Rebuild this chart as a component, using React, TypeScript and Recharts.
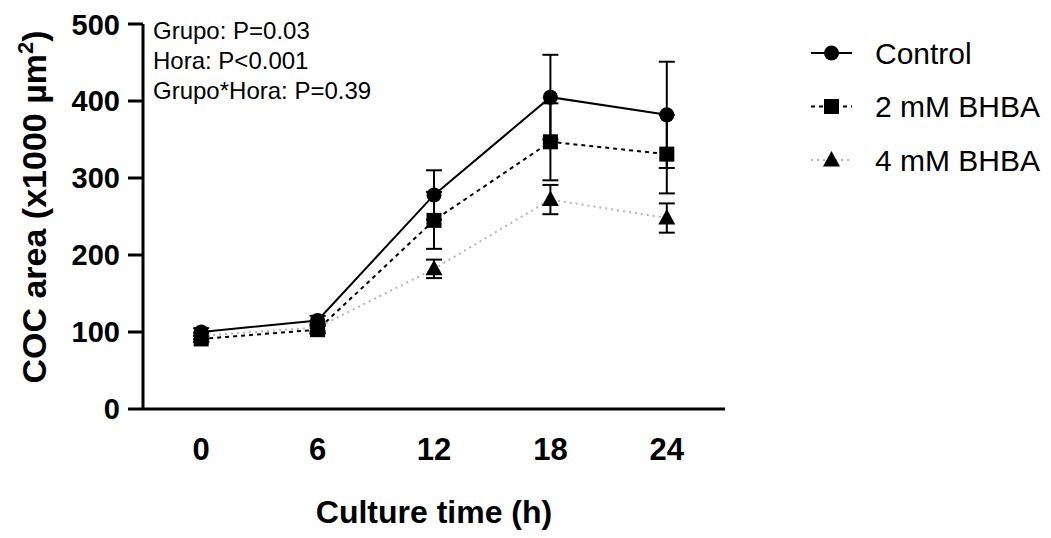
import React from "react";
import { LineChart, Line, XAxis, YAxis, ErrorBar, Customized } from "recharts";

const HOURS = [0, 6, 12, 18, 24];
const CONTROL = [100, 115, 278, 405, 382];
const CONTROL_SEM = [5, 6, 32, 55, 69];
const BHBA2 = [91, 103, 245, 347, 331];
const BHBA2_SEM = [4, 5, 37, 50, 51];
const BHBA4 = [95, 106, 182, 272, 248];
const BHBA4_SEM = [4, 5, 12, 19, 19];
const Y_TICKS = [0, 100, 200, 300, 400, 500];
const STATS = ["Grupo: P=0.03", "Hora: P<0.001", "Grupo*Hora: P=0.39"];

const FONT = "'Liberation Sans', Arial, sans-serif";

const data = HOURS.map((h, i) => ({
  hour: h,
  control: CONTROL[i],
  controlErr: CONTROL_SEM[i],
  bhba2: BHBA2[i],
  bhba2Err: BHBA2_SEM[i],
  bhba4: BHBA4[i],
  bhba4Err: BHBA4_SEM[i],
}));

type Shape = "circle" | "square" | "triangle";

const marker = (shape: Shape, cx: number, cy: number, key?: any) => {
  if (shape === "circle") return <circle key={key} cx={cx} cy={cy} r={7.5} fill="#000" />;
  if (shape === "square") return <rect key={key} x={cx - 7.5} y={cy - 7.5} width={15} height={15} fill="#000" />;
  return <polygon key={key} points={`${cx},${cy - 9} ${cx - 8.5},${cy + 6.5} ${cx + 8.5},${cy + 6.5}`} fill="#000" />;
};

const dotFor = (shape: Shape) => (props: any) => marker(shape, props.cx, props.cy, `${shape}-${props.index}`);

const SERIES = [
  { key: "control", name: "Control", shape: "circle" as Shape, stroke: "#000", dash: undefined },
  { key: "bhba2", name: "2 mM BHBA", shape: "square" as Shape, stroke: "#000", dash: "4 4" },
  { key: "bhba4", name: "4 mM BHBA", shape: "triangle" as Shape, stroke: "#b5b5b5", dash: "2 4" },
];

// legend, stats text and axis titles drawn on top of the chart
const Extras = () => (
  <g fontFamily={FONT} fill="#000">
    {SERIES.map((s, i) => {
      const y = 45 + i * 53.5;
      return (
        <g key={s.key}>
          <line x1={803} x2={844} y1={y} y2={y} stroke={s.stroke} strokeWidth={2} strokeDasharray={s.dash} />
          {marker(s.shape, 823.5, y)}
          <text x={867} y={y} dy="0.36em" fontSize={30}>
            {s.name}
          </text>
        </g>
      );
    })}
    {STATS.map((t, i) => (
      <text key={t} x={145} y={31 + i * 30} fontSize={24}>
        {t}
      </text>
    ))}
    <text transform="translate(38, 199) rotate(-90)" textAnchor="middle" fontSize={34} fontWeight="bold">
      COC area (x1000 µm
      <tspan dy={-13} fontSize={22}>2</tspan>
      <tspan dy={13}>)</tspan>
    </text>
    <text x={426} y={515} textAnchor="middle" fontSize={32} fontWeight="bold">
      Culture time (h)
    </text>
  </g>
);

export default function App() {
  return (
    <LineChart
      width={1035}
      height={522}
      data={data}
      margin={{ top: 16, right: 318, bottom: 21, left: 65 }}
      style={{ overflow: "visible" }}
    >
      <XAxis
        dataKey="hour"
        type="number"
        domain={[-3, 27]}
        ticks={HOURS}
        tickLine={false}
        tickMargin={23}
        height={100}
        axisLine={{ stroke: "#000", strokeWidth: 3 }}
        tick={{ fill: "#000", fontSize: 31, fontWeight: "bold", fontFamily: FONT }}
      />
      <YAxis
        domain={[0, 500]}
        ticks={Y_TICKS}
        width={70}
        tickSize={15}
        tickMargin={8}
        axisLine={{ stroke: "#000", strokeWidth: 3 }}
        tickLine={{ stroke: "#000", strokeWidth: 3 }}
        tick={{ fill: "#000", fontSize: 29, fontWeight: "bold", fontFamily: FONT }}
      />
      {SERIES.map((s) => (
        <Line
          key={s.key}
          dataKey={s.key}
          name={s.name}
          stroke={s.stroke}
          strokeWidth={2}
          strokeDasharray={s.dash}
          dot={dotFor(s.shape)}
          activeDot={false}
          isAnimationActive={false}
        >
          <ErrorBar dataKey={`${s.key}Err`} direction="y" width={8} stroke="#000" strokeWidth={2} />
        </Line>
      ))}
      <Customized component={Extras} />
    </LineChart>
  );
}
